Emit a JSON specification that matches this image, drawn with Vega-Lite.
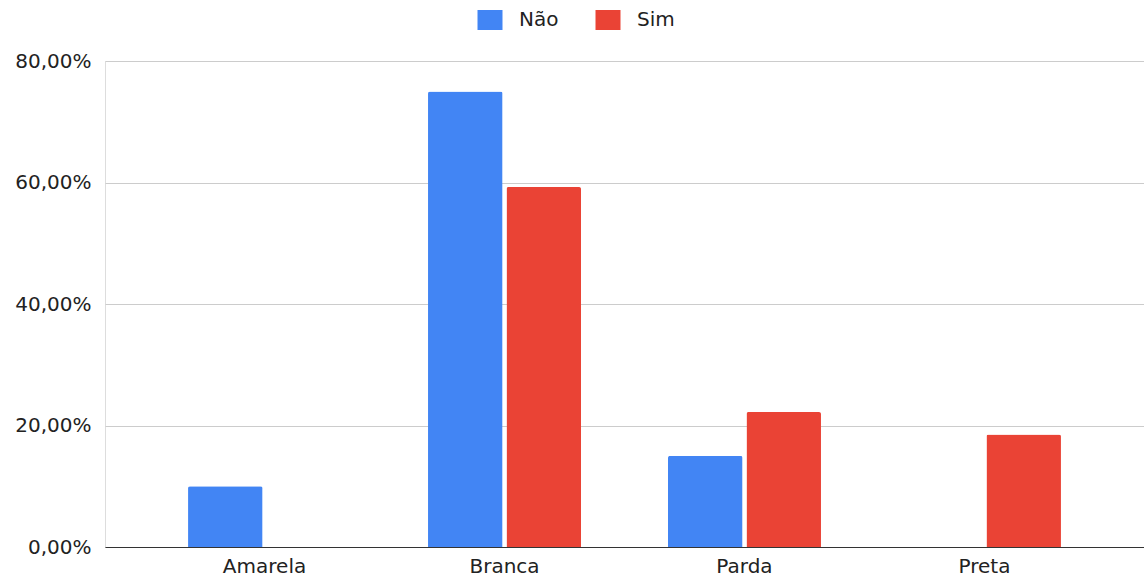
{
  "$schema": "https://vega.github.io/schema/vega-lite/v6.json",
  "width": 1039,
  "height": 486,
  "autosize": {"type": "none"},
  "padding": {"left": 105, "top": 61, "right": 0, "bottom": 32},
  "background": "#ffffff",
  "data": {
    "values": [
      {"raca": "Amarela", "resposta": "Não", "pct": 10},
      {"raca": "Branca", "resposta": "Não", "pct": 75},
      {"raca": "Branca", "resposta": "Sim", "pct": 59.26},
      {"raca": "Parda", "resposta": "Não", "pct": 15},
      {"raca": "Parda", "resposta": "Sim", "pct": 22.22},
      {"raca": "Preta", "resposta": "Sim", "pct": 18.52}
    ]
  },
  "mark": {"type": "bar", "cornerRadiusTopLeft": 2, "cornerRadiusTopRight": 2},
  "encoding": {
    "x": {
      "field": "raca",
      "type": "nominal",
      "sort": ["Amarela", "Branca", "Parda", "Preta"],
      "scale": {"paddingInner": 0.3625, "paddingOuter": 0.346},
      "axis": {
        "title": null,
        "labelAngle": 0,
        "ticks": false,
        "grid": false,
        "domain": true,
        "domainColor": "#333333",
        "domainWidth": 1.2,
        "labelPadding": 9,
        "labelFont": "DejaVu Sans",
        "labelFontSize": 20,
        "labelColor": "#222222"
      }
    },
    "xOffset": {
      "field": "resposta",
      "type": "nominal",
      "scale": {"domain": ["Não", "Sim"], "paddingInner": 0.05}
    },
    "y": {
      "field": "pct",
      "type": "quantitative",
      "scale": {"domain": [0, 80]},
      "axis": {
        "title": null,
        "values": [0, 20, 40, 60, 80],
        "labelExpr": "replace(format(datum.value, '.2f'), '.', ',') + '%'",
        "domain": false,
        "ticks": false,
        "grid": true,
        "gridColor": "#cccccc",
        "gridWidth": 1,
        "labelPadding": 14,
        "labelFont": "DejaVu Sans",
        "labelFontSize": 20,
        "labelColor": "#222222"
      }
    },
    "color": {
      "field": "resposta",
      "type": "nominal",
      "scale": {"domain": ["Não", "Sim"], "range": ["#4285F4", "#EA4335"]},
      "legend": {
        "title": null,
        "orient": "none",
        "direction": "horizontal",
        "legendX": 365,
        "legendY": -61,
        "symbolType": "M-0.625,-0.5H0.625V0.5H-0.625Z",
        "symbolSize": 1600,
        "symbolStrokeWidth": 0,
        "labelFont": "DejaVu Sans",
        "labelFontSize": 20,
        "labelColor": "#222222",
        "labelOffset": 9,
        "columnPadding": 29
      }
    }
  }
}
